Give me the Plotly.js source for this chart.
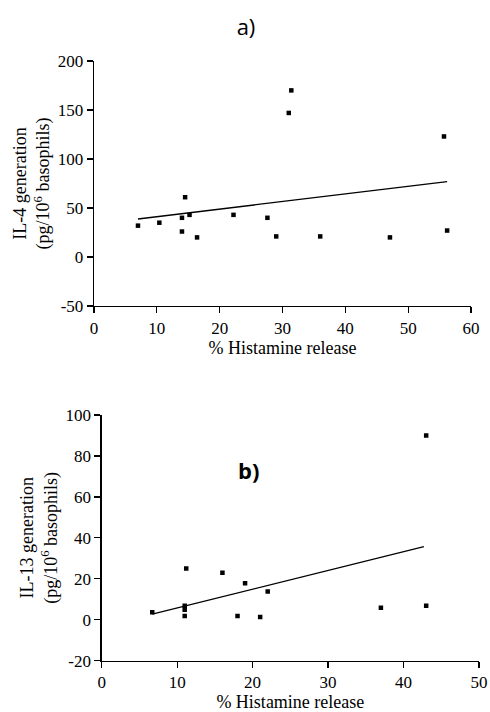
<!DOCTYPE html>
<html>
<head>
<meta charset="utf-8">
<script src="https://cdn.plot.ly/plotly-3.0.1.min.js"></script>
<style>html,body{margin:0;padding:0;background:#fff;}#chart{width:490px;height:712px;}</style>
</head>
<body>
<div id="chart"></div>
<script>
// Panel a) IL-4 generation vs % histamine release
const il4X = [7, 10.4, 14, 14, 14.5, 15.2, 16.4, 22.2, 27.6, 29, 31, 31.4, 36, 47.1, 55.7, 56.2];
const il4Y = [32, 35, 40, 26, 61, 43, 20, 43, 40, 21, 147, 170, 21, 20, 123, 27];
const il4FitX = [7, 56.2];
const il4FitY = [38.8, 76.9];
const il4XTicks = [0, 10, 20, 30, 40, 50, 60];
const il4YTicks = [-50, 0, 50, 100, 150, 200];
const il4YTickText = ['-50', '0', '50', '100', '150', '200'];

// Panel b) IL-13 generation vs % histamine release
const il13X = [6.7, 11.2, 11, 11, 11, 16, 19, 18, 21, 22, 37, 43, 43];
const il13Y = [3.7, 25, 6.8, 4.9, 1.8, 23, 17.8, 1.8, 1.3, 13.8, 5.9, 6.8, 90];
const il13FitX = [6.7, 42.7];
const il13FitY = [2.7, 35.7];
const il13XTicks = [0, 10, 20, 30, 40, 50];
const il13YTicks = [-20, 0, 20, 40, 60, 80, 100];
const il13YTickText = ['-20', '0', '20', '40', '60', '80', '100'];

const xTitle = '% Histamine release';
const yTitleA = 'IL-4 generation<br>(pg/10<sup>6</sup> basophils)';
const yTitleB = 'IL-13 generation<br>(pg/10<sup>6</sup> basophils)';

const serif = 'Liberation Serif';
const sans = 'Open Sans';

const mk = {symbol: 'square', size: 4.5, color: '#000'};
const ln = {color: '#000', width: 1.3};

const traces = [
  {x: il4X, y: il4Y, type: 'scatter', mode: 'markers', marker: mk, xaxis: 'x', yaxis: 'y', showlegend: false},
  {x: il4FitX, y: il4FitY, type: 'scatter', mode: 'lines', line: ln, xaxis: 'x', yaxis: 'y', showlegend: false},
  {x: il13X, y: il13Y, type: 'scatter', mode: 'markers', marker: mk, xaxis: 'x2', yaxis: 'y2', showlegend: false},
  {x: il13FitX, y: il13FitY, type: 'scatter', mode: 'lines', line: ln, xaxis: 'x2', yaxis: 'y2', showlegend: false}
];

function axis(extra) {
  return Object.assign({
    showgrid: false, zeroline: false, showline: true, linecolor: '#000', linewidth: 1.3,
    ticks: 'outside', ticklen: 6, tickwidth: 1.3, tickcolor: '#000',
    tickfont: {family: serif, size: 17, color: '#000'},
    tickmode: 'array', fixedrange: true
  }, extra);
}

const L = 90, R = 10, T = 61, B = 51;
const W = 490 - L - R, H = 712 - T - B;
const px = v => (v - L) / W;
const py = v => 1 - (v - T) / H;

const layout = {
  width: 490, height: 712,
  paper_bgcolor: '#fff', plot_bgcolor: '#fff',
  margin: {l: L, r: R, t: T, b: B},
  showlegend: false,
  title: {text: 'a)', font: {family: sans, size: 22, color: '#000'}, xref: 'container', yref: 'container', x: 246/490, y: 1 - 27/712, xanchor: 'center', yanchor: 'middle'},
  xaxis: axis({domain: [px(94), px(471)], range: [0, 60], tickvals: il4XTicks, anchor: 'y',
    title: {text: xTitle, font: {family: serif, size: 18, color: '#000'}, standoff: 3}}),
  yaxis: axis({domain: [py(306), py(61)], range: [-50, 200], tickvals: il4YTicks, ticktext: il4YTickText, anchor: 'x',
    title: {text: yTitleA, font: {family: serif, size: 18, color: '#000'}, standoff: 3}}),
  xaxis2: axis({domain: [px(101.7), px(479)], range: [0, 50], tickvals: il13XTicks, anchor: 'y2',
    title: {text: xTitle, font: {family: serif, size: 18, color: '#000'}, standoff: 8}}),
  yaxis2: axis({domain: [Math.max(0, py(660.7)), py(415)], range: [-20, 100], tickvals: il13YTicks, ticktext: il13YTickText, anchor: 'x2',
    title: {text: yTitleB, font: {family: serif, size: 18, color: '#000'}, standoff: 3}}),
  annotations: [
    {text: '<b>b)</b>', xref: 'x2', yref: 'y2', x: 19.4, y: 73, showarrow: false,
     font: {family: sans, size: 22, color: '#000'}, xanchor: 'center', yanchor: 'middle'}
  ]
};

Plotly.newPlot('chart', traces, layout, {displayModeBar: false, staticPlot: true});
</script>
</body>
</html>
